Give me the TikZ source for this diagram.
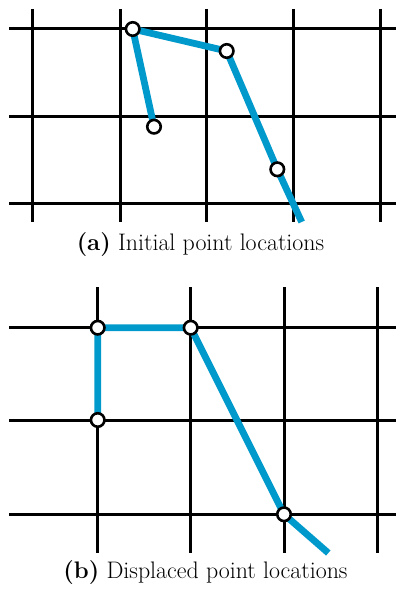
\documentclass[tikz,border=0pt]{standalone}
\begin{document}
\begin{tikzpicture}[x=1bp,y=-1bp,
  gridline/.style={line width=3bp,black},
  bluepath/.style={line width=6.8bp,color=pathblue},
  pt/.style={circle,draw=black,fill=white,line width=2.6bp,minimum size=13.5bp,inner sep=0pt},
  captext/.style={font=\fontsize{24}{28}\selectfont,anchor=center,inner sep=0pt}]
\definecolor{pathblue}{RGB}{0,153,204}
\useasboundingbox (0,0) rectangle (396,590);
% top grid
\foreach \x in {32.7,120,206.7,293.3,380} \draw[gridline] (\x,9) -- (\x,222);
\foreach \y in {29,116.3,203.3} \draw[gridline] (9,\y) -- (396,\y);
\coordinate (a1) at (132.7,29);
\coordinate (a2) at (154,126.7);
\coordinate (a3) at (226.7,51);
\coordinate (a4) at (277.3,169.3);
\coordinate (aend) at (301.7,222);
\draw[bluepath] (a2) -- (a1) -- (a3) -- (a4) -- (aend);
\foreach \p in {a1,a2,a3,a4} \node[pt] (n\p) at (\p) {};
\node[captext] (capa) at (200.5,245) {\textbf{(a)} Initial point locations};
% bottom grid
\foreach \x in {97.7,190.7,284,377.3} \draw[gridline] (\x,287) -- (\x,553);
\foreach \y in {327.7,420,514.3} \draw[gridline] (9,\y) -- (396,\y);
\coordinate (b1) at (97.7,327.7);
\coordinate (b2) at (97.7,420);
\coordinate (b3) at (190.7,327.7);
\coordinate (b4) at (284,514.3);
\coordinate (bend) at (328.3,553);
\draw[bluepath] (b2) -- (b1) -- (b3) -- (b4) -- (bend);
\foreach \p in {b1,b2,b3,b4} \node[pt] (n\p) at (\p) {};
\node[captext] (capb) at (205.5,573) {\textbf{(b)} Displaced point locations};
\end{tikzpicture}
\end{document}
